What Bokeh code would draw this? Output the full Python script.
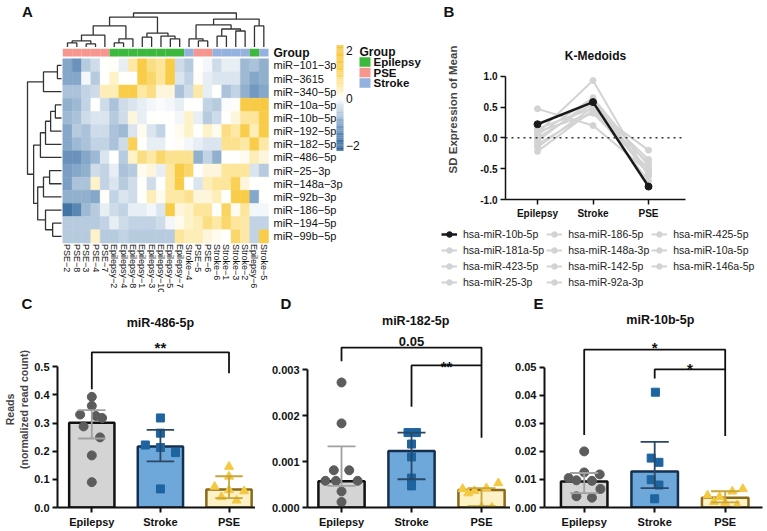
import math
import numpy as np
from bokeh.plotting import figure
from bokeh.layouts import row, column
from bokeh.models import (Range1d, ColumnDataSource, Legend, LegendItem, FixedTicker,
                          PrintfTickFormatter, Span, Title)
from bokeh.transform import linear_cmap
from bokeh.core.properties import value
from bokeh.embed import file_html
from bokeh.resources import INLINE

FONT = "Liberation Sans"
MINUS = "\u2212"

# ---------------- Panel A data ----------------
hm_rows = ["miR-101-3p", "miR-3615", "miR-340-5p", "miR-10a-5p", "miR-10b-5p", "miR-192-5p",
           "miR-182-5p", "miR-486-5p", "miR-25-3p", "miR-148a-3p", "miR-92b-3p", "miR-186-5p",
           "miR-194-5p", "miR-99b-5p"]
hm_cols = ["PSE-2", "PSE-8", "PSE-3", "PSE-4", "PSE-7", "Epilepsy-2", "Epilepsy-4", "Epilepsy-8",
           "Epilepsy-1", "Epilepsy-3", "Epilepsy-10", "Epilepsy-5", "Epilepsy-7", "Stroke-4", "PSE-5",
           "PSE-6", "Stroke-6", "Stroke-1", "Stroke-3", "Stroke-2", "Epilepsy-6", "Stroke-5"]
hm_values = [
    [-1.0, -1.3, -0.6, -0.4, 0.0, 0.05, -0.2, 0.5, 1.4, 0.8, 0.6, 1.4, -0.4, -0.6, 0.0, -0.1, -0.4, -0.2, -0.2, -0.8, -0.7, -0.9],
    [-1.0, -1.0, -0.1, -0.6, 0.0, 0.3, 0.0, 0.0, 1.3, 1.0, 0.6, 1.4, -0.3, -0.5, 0.05, -0.2, -0.3, -0.3, -0.3, -0.8, -1.0, -0.9],
    [-0.7, -0.7, -0.5, -0.4, 0.4, 0.4, 1.3, 1.3, 0.5, 0.8, 0.2, 0.2, -0.7, -0.4, 0.5, -0.2, 0.0, -0.7, -0.5, -0.9, -1.2, -1.0],
    [-0.9, -0.8, -0.5, 0.0, -0.4, -0.7, -0.4, -0.3, -0.2, -0.1, -0.05, -0.1, -0.2, 0.0, 0.0, -0.5, -0.6, -0.05, 0.05, 1.5, 1.5, 1.6],
    [-0.8, -0.7, -0.4, -0.3, -0.3, -0.6, -0.4, 0.2, -0.2, 0.0, 0.0, 0.0, -0.1, 0.3, -0.2, -0.6, -0.4, 0.0, 0.2, 0.6, 0.6, 1.4],
    [-1.0, -0.6, -0.7, -0.4, -0.4, -0.7, -0.8, -0.3, 0.1, -0.3, -0.5, 0.0, 0.1, 0.3, 0.0, 0.3, 0.1, 0.8, 0.5, 1.3, 0.4, 1.4],
    [-1.0, -0.8, -0.7, -0.5, -0.5, -0.7, -0.4, 1.2, 0.0, -0.2, -0.2, 0.0, 0.05, -0.1, -0.2, -0.3, -0.3, 0.7, 0.7, 0.5, 1.3, 0.5],
    [-1.3, -1.3, -1.0, -0.8, -0.3, 0.0, -0.6, 0.3, 0.8, 0.5, 1.0, 0.7, 0.7, 0.7, -0.9, -0.5, -0.9, 0.0, 0.0, 0.1, 0.4, 0.2],
    [-1.1, -1.0, -0.9, -0.4, -0.5, -0.2, -0.7, -0.6, 0.1, 0.2, -0.2, 0.5, 1.4, 1.0, 0.0, 0.2, 0.2, 0.6, 0.6, 0.6, -0.3, -0.6],
    [-1.1, -0.7, -0.7, 0.3, -0.5, -0.3, -0.6, -0.4, 0.0, -0.4, 0.0, 0.5, 1.4, 0.0, -0.3, 0.4, 0.6, 0.6, 1.2, 0.2, 0.0, 0.0],
    [-0.9, -0.9, -0.9, -1.0, 0.05, -0.5, -0.3, -0.4, 0.0, 0.4, 0.1, 0.5, 0.5, 0.7, 0.2, 0.2, 0.4, 0.0, 1.3, 1.4, -1.0, 0.0],
    [-1.8, -1.5, -0.8, -0.6, -0.2, -0.4, -0.5, -0.2, -0.2, -0.1, -0.3, 1.4, 0.2, 0.3, 0.6, 0.6, 0.0, 1.1, 0.1, 0.6, -0.1, -0.1],
    [-0.6, -0.6, -0.6, -0.6, -0.5, -0.2, -0.4, -0.5, -0.5, -0.5, -0.4, -0.1, 0.1, 0.3, 0.4, 0.8, 0.5, 1.0, 0.6, 0.5, -0.5, -0.5],
    [-0.6, -0.6, -0.6, 0.3, -0.6, -0.6, -0.5, -0.6, -0.6, -0.6, -0.6, -0.6, 0.6, 0.4, 0.4, 0.2, 0.1, 0.0, 1.0, 0.5, -0.5, 1.3],
]
group_names = ["Epilepsy", "PSE", "Stroke"]
colorbar_ticks = [2, 0, -2]
# dendrograms: (left, right, merge height)
col_tree = (((((0, 1, 1.2), (2, 3, 0.9), 1.8), 4, 3.5), ((5, 6, 1.2), 7, 2.4), 6.2),
             ((8, 9, 2.9), (10, (11, 12, 2.4), 3.2), 4.1), 8.8)
col_tree = (col_tree,
            (((13, (14, 15, 1.8), 2.4), ((16, 17, 3.2), (18, 19, 4.7), 5.3), 6.5), (20, 21, 6.2), 8.2),
            10.0)
row_tree = (((0, 1, 1.2), 2, 5.3),
            (((((3, 4, 1.8), 5, 3.2), 6, 4.7), 7, 6.2),
             (((8, 9, 3.5), 10, 5.3), (11, (12, 13, 2.6), 4.7), 7.0), 8.2),
            10.0)

# ---------------- Panel B data ----------------
kmed_groups = ["Epilepsy", "Stroke", "PSE"]
kmed_names = ["hsa-miR-10b-5p", "hsa-miR-181a-5p", "hsa-miR-423-5p", "hsa-miR-25-3p",
              "hsa-miR-186-5p", "hsa-miR-148a-3p", "hsa-miR-142-5p", "hsa-miR-92a-3p",
              "hsa-miR-425-5p", "hsa-miR-10a-5p", "hsa-miR-146a-5p"]
kmed_values = [
    [0.22, 0.58, -0.79],
    [0.47, 0.20, -0.55],
    [0.08, 0.93, -0.62],
    [-0.22, 0.45, -0.20],
    [0.05, 0.65, -0.45],
    [-0.15, 0.50, -0.35],
    [0.00, 0.55, -0.60],
    [0.10, 0.40, -0.50],
    [-0.05, 0.62, -0.58],
    [0.15, 0.48, -0.70],
    [-0.10, 0.42, -0.40],
]
kmed_highlight = "hsa-miR-10b-5p"
kmed_title = "K-Medoids"

# ---------------- Panels C, D, E data ----------------
bar_groups = ["Epilepsy", "Stroke", "PSE"]

c_median = [0.301, 0.217, 0.064]
c_low = [0.245, 0.164, 0.033]
c_high = [0.346, 0.276, 0.111]
c_epilepsy = [0.393, 0.361, 0.330, 0.325, 0.318, 0.288, 0.249, 0.185, 0.090]
c_stroke = [0.318, 0.264, 0.222, 0.213, 0.195, 0.066]
c_pse = [0.145, 0.110, 0.074, 0.062, 0.058, 0.037, 0.025]

d_median = [0.000571, 0.00123, 0.000383]
d_low = [0.00047, 0.000615, 0.00003]
d_high = [0.00133, 0.00163, 0.00042]
d_epilepsy = [0.00272, 0.00183, 0.00081, 0.00081, 0.00058, 0.00058, 0.00058, 0.00035, 0.00012]
d_stroke = [0.00163, 0.00163, 0.00138, 0.00110, 0.00064, 0.00047]
d_pse = [0.00053, 0.00042, 0.000405, 0.00036, 0.00031, 0.00001, 0.0]

e_median = [0.0093, 0.0128, 0.0035]
e_low = [0.0051, 0.0069, 0.0018]
e_high = [0.0123, 0.0234, 0.0058]
e_epilepsy = [0.0200, 0.0125, 0.0118, 0.0105, 0.0097, 0.0095, 0.0066, 0.0040, 0.0035]
e_stroke = [0.0411, 0.0176, 0.0161, 0.0099, 0.0080, 0.0031]
e_pse = [0.0066, 0.0057, 0.0043, 0.0038, 0.0020, 0.0017, 0.0008]

# ---------------- layout / style (not data) ----------------
c_jit = [[0, 0, -0.17, 0.06, 0.15, -0.12, 0.12, 0, 0],
         [0, 0, -0.22, 0, 0.22, 0],
         [0, 0, -0.21, 0, 0.22, -0.11, 0.11]]
d_jit = [[0, 0, -0.11, 0.11, -0.23, -0.08, 0.23, 0, 0],
         [-0.05, 0.07, 0, 0, 0, 0],
         [0.24, 0.07, -0.27, -0.1, -0.19, 0.0, 0.15]]
e_jit = [[0, 0, 0.22, -0.22, -0.11, 0.11, 0.23, -0.11, 0.11],
         [0.01, -0.05, 0.06, -0.05, 0.06, 0],
         [0.25, 0.1, -0.25, -0.08, -0.16, 0.0, 0.17]]

grp_colors = {"Epilepsy": "#3cb83c", "PSE": "#f7968e", "Stroke": "#95b1dd"}
bar_fill = ["#d4d4d4", "#6ea8da", "#fdf1c6"]
bar_line = ["#111111", "#14304f", "#8a6a18"]
pt_color = ["#5c5c5c", "#1d64a0", "#f5c842"]
pt_marker = ["circle", "square", "triangle"]
pt_size = [9, 8, 9]
err_color = ["#a0a0a0", "#2a4765", "#c9a53a"]


def hex2rgb(h):
    return tuple(int(h[i:i + 2], 16) for i in (1, 3, 5))


def ramp(stops, n):
    vals = np.linspace(stops[0][0], stops[-1][0], n)
    out = []
    for v in vals:
        for (a, ca), (b, cb) in zip(stops[:-1], stops[1:]):
            if a <= v <= b + 1e-9:
                t = (v - a) / (b - a)
                rgb = [round(x + (y - x) * t) for x, y in zip(hex2rgb(ca), hex2rgb(cb))]
                out.append("#%02x%02x%02x" % tuple(rgb))
                break
    return out


CLO, CHI = -2.2, 2.2
palette = ramp([(-2.2, "#225b93"), (-1.1, "#7a9fc4"), (0.0, "#ffffff"), (0.5, "#fde9a6"),
                (1.3, "#f9cd4a"), (2.2, "#f6c33a")], 256)

COMMON = dict(output_backend="svg", toolbar_location=None, outline_line_color=None,
              title_location=None, frame_align=False)

# ================= Panel A =================
A_W, TOP_H = 440, 292
PXW, PXH = 9.35, 13.15
HX0, HY0 = 62.3, 58.3


def ax_(px):
    return (px - HX0) / PXW


def ay_(py):
    return (py - HY0) / PXH


pA = figure(width=A_W, height=TOP_H, x_range=Range1d(ax_(0), ax_(A_W)),
            y_range=Range1d(ay_(TOP_H), ay_(0)), x_axis_location=None, y_axis_location=None,
            min_border=0, **COMMON)
pA.grid.visible = False

hx, hy, hv = [], [], []
for r, rv in enumerate(hm_values):
    for c, v in enumerate(rv):
        hx.append(c + 0.5)
        hy.append(r + 0.5)
        hv.append(v)
pA.rect(x="x", y="y", width=1, height=1, source=ColumnDataSource(dict(x=hx, y=hy, v=hv)),
        fill_color=linear_cmap("v", palette, CLO, CHI), line_color=linear_cmap("v", palette, CLO, CHI),
        line_width=0.5)

col_group = [c.split("-")[0] for c in hm_cols]
pA.rect(x=[c + 0.5 for c in range(len(hm_cols))], y=ay_(52.2), width=1, height=7.8 / PXH,
        fill_color=[grp_colors[g] for g in col_group], line_color=None)

txt = dict(text_font=value(FONT), text_color="#111111", text_baseline="middle")
pA.text(x=ax_(273), y=ay_(52.2), text=["Group"], text_font_size="12px", text_font_style="bold",
        text_align="left", **txt)
pA.text(x=[ax_(273)] * len(hm_rows), y=[r + 0.5 for r in range(len(hm_rows))],
        text=[s.replace("-", MINUS) for s in hm_rows], text_font_size="11px", text_align="left", **txt)
pA.text(x=[c + 0.5 for c in range(len(hm_cols))], y=[ay_(243.5)] * len(hm_cols),
        text=[s.replace("-", MINUS) for s in hm_cols], angle=-math.pi / 2,
        text_font_size="9px", text_align="left", **txt)


def dendro(tree, leaf_pos, h_to_c):
    sp, sc = [], []

    def rec(n):
        if isinstance(n, int):
            return leaf_pos(n), h_to_c(0.0)
        l, r, h = n
        pl, cl = rec(l)
        pr, cr = rec(r)
        ch = h_to_c(h)
        sp.append([pl, pl, pr, pr])
        sc.append([cl, ch, ch, cr])
        return (pl + pr) / 2.0, ch

    rec(tree)
    return sp, sc


cp, cc = dendro(col_tree, lambda i: i + 0.5, lambda h: ay_(46.5 - 3.4 * h))
pA.multi_line(xs=cp, ys=cc, line_color="#333333", line_width=1.3)
rp, rc = dendro(row_tree, lambda i: i + 0.5, lambda h: ax_(61.0 - 3.4 * h))
pA.multi_line(xs=rc, ys=rp, line_color="#333333", line_width=1.3)

# colour bar
CB_MID, CB_SCALE = 97.5, 23.75
cb_vals = np.linspace(CLO, CHI, 120)
cb_step = (CHI - CLO) / (len(cb_vals) - 1)
pA.rect(x=ax_(339.5), y="y", width=7 / PXW, height=cb_step * CB_SCALE / PXH * 1.1,
        source=ColumnDataSource(dict(y=[ay_(CB_MID - v * CB_SCALE) for v in cb_vals], v=list(cb_vals))),
        fill_color=linear_cmap("v", palette, CLO, CHI), line_color=None)
pA.text(x=[ax_(345.5)] * len(colorbar_ticks), y=[ay_(CB_MID - t * CB_SCALE) for t in colorbar_ticks],
        text=[str(t).replace("-", MINUS) for t in colorbar_ticks], text_font_size="12px",
        text_align="left", **txt)

# group legend
leg_py = [61.5, 72.0, 82.5]
pA.text(x=ax_(359), y=ay_(51), text=["Group"], text_font_size="12px", text_font_style="bold",
        text_align="left", **txt)
pA.rect(x=ax_(364.5), y=[ay_(v) for v in leg_py], width=11 / PXW, height=9.6 / PXH,
        fill_color=[grp_colors[g] for g in group_names], line_color=None)
pA.text(x=[ax_(373)] * 3, y=[ay_(v) for v in leg_py], text=group_names, text_font_size="11.5px",
        text_font_style="bold", text_align="left", **txt)

pA.text(x=ax_(27), y=ay_(10.5), text=["A"], text_font_size="15px", text_font_style="bold",
        text_align="center", **txt)


def style_axes(p, tick_size, lw):
    for a in p.axis:
        a.axis_line_width = lw
        a.axis_line_color = "#111111"
        a.major_tick_line_width = lw
        a.major_tick_line_color = "#111111"
        a.major_tick_out = 5
        a.major_tick_in = 0
        a.minor_tick_line_color = None
        a.major_label_text_font = FONT
        a.major_label_text_font_style = "bold"
        a.major_label_text_font_size = tick_size
        a.major_label_text_color = "#111111"
        a.major_label_standoff = 3


def title_obj(text, size, align="left", offset=0, standoff=0):
    return Title(text=text, align=align, offset=offset, standoff=standoff, text_font=FONT,
                 text_font_size=size, text_font_style="bold", text_color="#111111")


# ================= Panel B =================
B_W = 767 - A_W
B_H = 226
LEG_H = TOP_H - B_H
B_PX_PER_UNIT = 62.0
B_FRAME_TOP, B_AXIS_TOP = 18, 75          # pixel rows of frame top and of the y = 1.0 tick
B_YTOP = 1.0 + (B_AXIS_TOP - B_FRAME_TOP) / B_PX_PER_UNIT
bxr = (-0.577, 2.666)
pB = figure(width=B_W, height=B_H, x_range=Range1d(*bxr), y_range=Range1d(-1.0, B_YTOP),
            min_border_left=65, min_border_right=82, min_border_top=B_FRAME_TOP, min_border_bottom=27,
            **COMMON)
pB.grid.visible = False
pB.add_layout(title_obj("B", "15px", align="left", offset=-62, standoff=0), "above")
pB.text(x=[(bxr[0] + bxr[1]) / 2], y=[1.0 + (B_AXIS_TOP - 55) / B_PX_PER_UNIT], text=[kmed_title],
        text_font=value(FONT), text_font_size="12px", text_font_style="bold", text_align="center",
        text_baseline="middle", text_color="#111111")

style_axes(pB, "10px", 1.5)
pB.yaxis.ticker = FixedTicker(ticks=[-1.0, -0.5, 0.0, 0.5, 1.0])
pB.yaxis.formatter = PrintfTickFormatter(format="%.1f")
pB.yaxis.bounds = (-1.0, 1.0)
pB.yaxis.axis_label = "SD Expression of Mean"
pB.yaxis.axis_label_text_font = FONT
pB.yaxis.axis_label_text_font_size = "11.5px"
pB.yaxis.axis_label_text_font_style = "bold"
pB.yaxis.axis_label_standoff = 18
pB.xaxis.ticker = FixedTicker(ticks=[0, 1, 2])
pB.xaxis.major_label_overrides = {i: g for i, g in enumerate(kmed_groups)}
pB.add_layout(Span(location=0, dimension="width", line_color="#333333", line_dash="dotted",
                   line_width=1.5))

kx = list(range(len(kmed_groups)))


def series_style(name):
    if name == kmed_highlight:
        return dict(color="#1a1a1a", lw=2.5, size=7)
    return dict(color="#d3d3d3", lw=2, size=6)


order = [n for n in kmed_names if n != kmed_highlight] + [kmed_highlight]
for name in order:
    vals = kmed_values[kmed_names.index(name)]
    st = series_style(name)
    pB.line(x=kx, y=vals, line_color=st["color"], line_width=st["lw"])
    pB.scatter(x=kx, y=vals, marker="circle", size=st["size"], fill_color=st["color"],
               line_color=st["color"])

# legend for panel B, in its own strip below the chart (same series, hidden renderers)
pLeg = figure(width=B_W, height=LEG_H, x_range=Range1d(*bxr), y_range=Range1d(-1.0, 1.0),
              x_axis_location=None, y_axis_location=None, min_border=0, **COMMON)
pLeg.grid.visible = False
leg_items = []
for name, vals in zip(kmed_names, kmed_values):
    st = series_style(name)
    l = pLeg.line(x=kx, y=vals, line_color=st["color"], line_width=st["lw"], visible=False)
    s = pLeg.scatter(x=kx, y=vals, marker="circle", size=st["size"], fill_color=st["color"],
                     line_color=st["color"], visible=False)
    leg_items.append(LegendItem(label=name, renderers=[l, s]))
pLeg.add_layout(Legend(items=leg_items, location="top_left", orientation="vertical", nrows=4,
                       label_text_font=FONT, label_text_font_size="10.5px", label_text_color="#222222",
                       border_line_color=None, background_fill_alpha=0, padding=0, margin=1,
                       spacing=2, glyph_height=14, glyph_width=16, label_height=14, label_standoff=6))

# ================= Panels C, D, E =================
BOT_H = 531 - TOP_H


def bar_panel(width, bl, br, xr, ytop, yticks, yfmt, med, lo, hi, pts, jits, title, title_x, title_y,
              brackets, sigs, letter, letter_off, ylabel=None):
    p = figure(width=width, height=BOT_H, x_range=Range1d(*xr), y_range=Range1d(0, ytop),
               min_border_left=bl, min_border_right=br, min_border_top=18, min_border_bottom=24,
               **COMMON)
    p.grid.visible = False
    xs = list(range(len(bar_groups)))
    p.vbar(x=xs, top=med, width=0.66, fill_color=bar_fill, line_color=bar_line, line_width=2.5)
    for i, (vals, jit) in enumerate(zip(pts, jits)):
        p.scatter(x=[i + j for j in jit], y=vals, marker=pt_marker[i], size=pt_size[i],
                  fill_color=pt_color[i], line_color=pt_color[i])
    p.segment(x0=xs, y0=lo, x1=xs, y1=hi, line_color=err_color, line_width=1.8)
    p.segment(x0=[x - 0.2 for x in xs], y0=hi, x1=[x + 0.2 for x in xs], y1=hi,
              line_color=err_color, line_width=1.8)
    p.segment(x0=[x - 0.2 for x in xs], y0=lo, x1=[x + 0.2 for x in xs], y1=lo,
              line_color=err_color, line_width=1.8)
    p.multi_line(xs=[[b[0], b[0], b[1], b[1]] for b in brackets],
                 ys=[[b[3], b[2], b[2], b[4]] for b in brackets], line_color="#111111", line_width=1.8)
    for sx, sy, st, sz in sigs:
        p.text(x=[sx], y=[sy], text=[st], text_font=value(FONT), text_font_size=sz,
               text_font_style="bold", text_align="center", text_baseline="alphabetic",
               text_color="#111111")
    p.text(x=[title_x], y=[title_y], text=[title], text_font=value(FONT), text_font_size="12.5px",
           text_font_style="bold", text_align="center", text_baseline="alphabetic", text_color="#111111")
    style_axes(p, "11px", 2)
    p.yaxis.ticker = FixedTicker(ticks=yticks)
    p.yaxis.formatter = PrintfTickFormatter(format=yfmt)
    p.yaxis.bounds = (0, yticks[-1])
    p.xaxis.ticker = FixedTicker(ticks=xs)
    p.xaxis.major_label_overrides = {i: g for i, g in enumerate(bar_groups)}
    if ylabel:
        p.yaxis.axis_label = ylabel
        p.yaxis.axis_label_text_font = FONT
        p.yaxis.axis_label_text_font_size = "10.5px"
        p.yaxis.axis_label_text_font_style = "bold"
        p.yaxis.axis_label_standoff = 1
    p.add_layout(title_obj(letter, "15px", align="left", offset=letter_off, standoff=0), "above")
    return p


pC = bar_panel(255, 53, 0, (-0.5, 2.386), 0.6961, [0.0, 0.1, 0.2, 0.3, 0.4, 0.5], "%.1f",
               c_median, c_low, c_high, [c_epilepsy, c_stroke, c_pse], c_jit,
               "miR-486-5p", 1.0, 0.657,
               [(0, 2, 0.551, 0.42, 0.477)],
               [(1.0, 0.567, "**", "15px")], "C", -36,
               ylabel="Reads\n(normalized read count)")

pD = bar_panel(255, 52, 0, (-0.486, 2.414), 0.004264, [0.0, 0.001, 0.002, 0.003], "%.3f",
               d_median, d_low, d_high, [d_epilepsy, d_stroke, d_pse], d_jit,
               "miR-182-5p", 1.06, 0.00405,
               [(0, 2, 0.00348, 0.00318, 0.00309), (1, 2, 0.00309, 0.00219, 0.00152)],
               [(1.0, 0.00362, "0.05", "13px"), (1.5, 0.00306, "**", "15px")], "D", -27)

pE = bar_panel(257, 34, 5, (-0.563, 2.529), 0.06986, [0.0, 0.01, 0.02, 0.03, 0.04, 0.05], "%.2f",
               e_median, e_low, e_high, [e_epilepsy, e_stroke, e_pse], e_jit,
               "miR-10b-5p", 1.08, 0.0669,
               [(0, 2, 0.0563, 0.0258, 0.0492), (1, 2, 0.0492, 0.046, 0.0255)],
               [(1.0, 0.0569, "*", "15px"), (1.5, 0.0497, "*", "15px")], "E", -11)

layout = column(row(pA, column(pB, pLeg, spacing=0), spacing=0),
                row(pC, pD, pE, spacing=0), spacing=0)
open("out.html", "w").write(file_html(layout, INLINE, "chart"))
